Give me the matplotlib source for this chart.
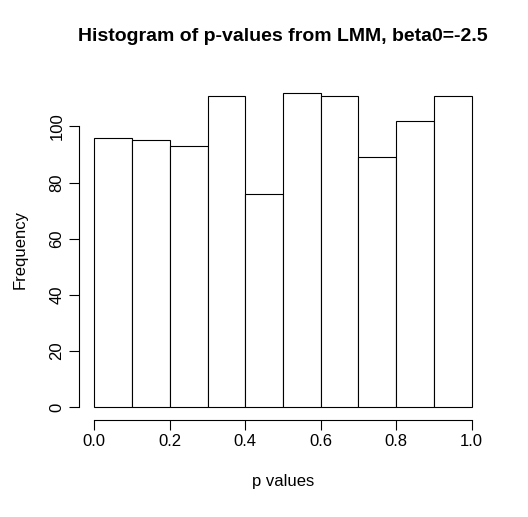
import numpy as np
import matplotlib.pyplot as plt

plt.rcParams["font.family"] = ["Liberation Sans", "DejaVu Sans"]

edges = [0.0, 0.1, 0.2, 0.3, 0.4, 0.5, 0.6, 0.7, 0.8, 0.9, 1.0]
counts = [96, 95, 93, 111, 76, 112, 111, 89, 102, 111]

fig = plt.figure(figsize=(5.28, 5.17), dpi=100)
ax = fig.add_axes([0.15, 0.188, 0.772, 0.657])
ax.bar(edges[:-1], counts, width=0.1, align="edge", color="white",
       edgecolor="black", linewidth=0.8)
ax.set_xlim(-0.04, 1.04)
ax.set_ylim(-4.5, 116.5)
for s in ["top", "right"]:
    ax.spines[s].set_visible(False)
ax.spines["bottom"].set_bounds(0, 1)
ax.spines["left"].set_bounds(0, 100)
ax.set_xticks(np.arange(0, 1.01, 0.2))
ax.set_xticklabels(["0.0", "0.2", "0.4", "0.6", "0.8", "1.0"])
ax.set_yticks(range(0, 101, 20))
ax.tick_params(labelsize=12, length=7)
plt.setp(ax.get_yticklabels(), rotation=90, va="center")
ax.set_xlabel("p values", fontsize=12, labelpad=18)
ax.set_ylabel("Frequency", fontsize=12, labelpad=16)
ax.set_title("Histogram of p-values from LMM, beta0=-2.5", fontsize=14,
             fontweight="bold", pad=28)
fig.savefig("out.png", dpi=100)
